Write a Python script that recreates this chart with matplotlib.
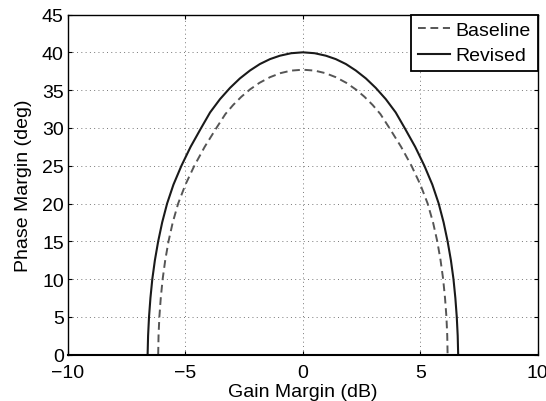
import numpy as np
import matplotlib.pyplot as plt

plt.rcParams['font.family'] = ['Liberation Sans', 'DejaVu Sans']

# Gain/phase margin boundary, revised design
gm_revised = [-6.61, -6.59, -6.55, -6.49, -6.41, -6.30, -6.16, -5.99, -5.78, -5.51,
              -5.17, -4.78, -4.33, -3.95, -3.53, -3.10, -2.68, -2.25, -1.83, -1.40,
              -0.98, -0.50, 0.00,
              0.50, 0.98, 1.40, 1.83, 2.25, 2.68, 3.10, 3.53, 3.95, 4.33,
              4.78, 5.17, 5.51, 5.78, 5.99, 6.16, 6.30, 6.41, 6.49, 6.55,
              6.59, 6.61]
pm_revised = [0, 2.5, 5, 7.5, 10, 12.5, 15, 17.5, 20, 22.5,
              25, 27.5, 30, 32.05, 33.8, 35.3, 36.55, 37.6, 38.45, 39.1,
              39.55, 39.88, 40.0,
              39.88, 39.55, 39.1, 38.45, 37.6, 36.55, 35.3, 33.8, 32.05, 30,
              27.5, 25, 22.5, 20, 17.5, 15, 12.5, 10, 7.5, 5,
              2.5, 0]

# Baseline design
gm_baseline = [-6.16, -6.145, -6.11, -6.05, -5.97, -5.86, -5.72, -5.54, -5.31, -5.00,
               -4.62, -4.18, -3.68, -3.30, -2.97, -2.62, -2.26, -1.85, -1.40, -0.95,
               -0.50, 0.00,
               0.50, 0.95, 1.40, 1.85, 2.26, 2.62, 2.97, 3.30, 3.68, 4.18,
               4.62, 5.00, 5.31, 5.54, 5.72, 5.86, 5.97, 6.05, 6.11, 6.145,
               6.16]
pm_baseline = [0, 2.5, 5, 7.5, 10, 12.5, 15, 17.5, 20, 22.5,
               25, 27.5, 30, 31.83, 33.03, 34.12, 35.07, 35.96, 36.71, 37.25,
               37.58, 37.7,
               37.58, 37.25, 36.71, 35.96, 35.07, 34.12, 33.03, 31.83, 30, 27.5,
               25, 22.5, 20, 17.5, 15, 12.5, 10, 7.5, 5, 2.5,
               0]

xticks = [-10, -5, 0, 5, 10]
xticklabels = ['\u221210', '\u22125', '0', '5', '10']
yticks = [0, 5, 10, 15, 20, 25, 30, 35, 40, 45]

fig = plt.figure(figsize=(5.46, 4.02), dpi=100)
ax = fig.add_axes([0.1245, 0.1152, 0.8605, 0.8462])

ax.plot(gm_baseline, pm_baseline, color='#555555', linestyle=(0, (4, 2.4)),
        linewidth=1.4, label='Baseline')
ax.plot(gm_revised, pm_revised, color='#1a1a1a', linewidth=1.5, label='Revised')

ax.set_xlim(-10, 10)
ax.set_ylim(0, 45)
ax.set_xticks(xticks)
ax.set_yticks(yticks)
ax.set_xticklabels(xticklabels)
ax.tick_params(direction='in', top=True, right=True, labelsize=14, length=3,
               width=0.8)
ax.tick_params(axis='y', pad=3)
ax.tick_params(axis='x', pad=7)
ax.grid(True, linestyle=(0, (1, 3.4)), color='#777777', linewidth=0.7)
for s in ax.spines.values():
    s.set_linewidth(1.0)
    s.set_color('black')
ax.spines['bottom'].set_linewidth(1.5)

ax.set_xlabel('Gain Margin (dB)', fontsize=14, labelpad=1.0)
ax.set_ylabel('Phase Margin (deg)', fontsize=14, labelpad=7)

leg = ax.legend(loc='upper right', fontsize=14, fancybox=False,
                edgecolor='black', framealpha=1, handlelength=1.65,
                handletextpad=0.3, borderaxespad=0, borderpad=0.35,
                labelspacing=0.4)
leg.get_frame().set_linewidth(1.3)

fig.savefig('out.png', dpi=100)
